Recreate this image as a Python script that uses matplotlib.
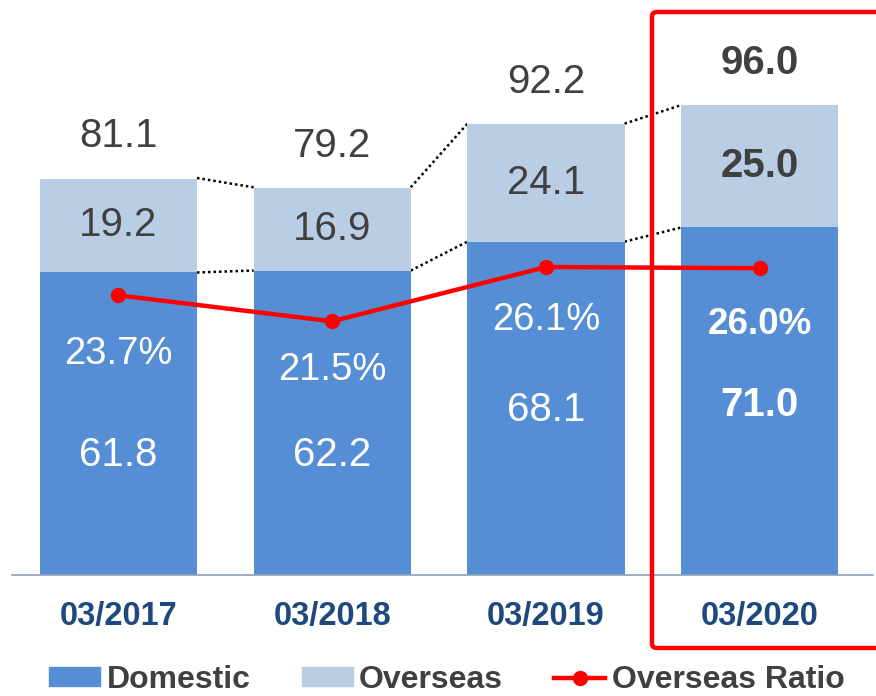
import matplotlib.pyplot as plt
from matplotlib.patches import FancyBboxPatch, Patch
from matplotlib.lines import Line2D

# data
periods = ['03/2017', '03/2018', '03/2019', '03/2020']
domestic = [61.8, 62.2, 68.1, 71.0]
overseas = [19.2, 16.9, 24.1, 25.0]
totals = [81.1, 79.2, 92.2, 96.0]
ratio = [23.7, 21.5, 26.1, 26.0]

# label placement (data units, left axis)
dom_label_y = [24.5, 24.5, 33.7, 34.7]
ratio_label_y = [45.1, 41.9, 52.1, 51.1]

c_dom = '#558ED5'
c_ovs = '#B9CDE5'
c_red = '#FF0000'
c_txt = '#404040'
c_tick = '#1F497D'
plt.rcParams['font.family'] = ['Liberation Sans', 'DejaVu Sans']

fig = plt.figure(figsize=(8.76, 6.96), dpi=100)
ax = fig.add_axes([12 / 876, 121 / 696, 861 / 876, 575 / 696])
x = list(range(len(periods)))
w = 0.735

ax.bar(x, domestic, w, color=c_dom, zorder=2)
ax.bar(x, overseas, w, bottom=domestic, color=c_ovs, zorder=2)

ax.set_xlim(-0.498, 3.53)
ax.set_ylim(0, 575 / 4.895)
for s in ['top', 'right', 'left']:
    ax.spines[s].set_visible(False)
ax.spines['bottom'].set_color('#8EA0B8')
ax.spines['bottom'].set_linewidth(1.2)
ax.set_yticks([])
ax.set_xticks(x)
ax.set_xticklabels(periods, fontsize=23.5, fontweight='bold', color=c_tick)
ax.tick_params(axis='x', length=0, pad=19)

# dotted connectors between bars
for i in range(len(x) - 1):
    for top_a, top_b in [(totals[i], totals[i + 1]), (domestic[i], domestic[i + 1])]:
        ax.plot([x[i] + w / 2, x[i + 1] - w / 2], [top_a, top_b], color='black',
                linestyle=(0, (1, 1.2)), linewidth=1.8, zorder=1)

for i in x:
    bold = 'bold' if i == 3 else 'normal'
    ax.text(i, totals[i] + 8.5, f'{totals[i]:.1f}', ha='center', va='center',
            fontsize=29, color=c_txt, fontweight=bold)
    ax.text(i, domestic[i] + overseas[i] / 2, f'{overseas[i]:.1f}', ha='center', va='center',
            fontsize=29, color=c_txt, fontweight=bold)
    ax.text(i, dom_label_y[i], f'{domestic[i]:.1f}', ha='center', va='center',
            fontsize=29, color='white', fontweight=bold)
    ax.text(i, ratio_label_y[i], f'{ratio[i]:.1f}%', ha='center', va='center',
            fontsize=26.5 if i == 3 else 27.5, color='white', fontweight=bold)

ax2 = ax.twinx()
ax2.set_ylim(0, 575 / 11.8)
ax2.plot(x, ratio, color=c_red, linewidth=3.2, marker='o', markersize=10, zorder=3)
ax2.axis('off')

# highlight box around last period
box = FancyBboxPatch((652 / 876, 48 / 696), 260 / 876, 636 / 696,
                     boxstyle='round,pad=0,rounding_size=0.006', transform=fig.transFigure,
                     fill=False, edgecolor=c_red, linewidth=3.2, zorder=5)
fig.patches.append(box)

handles = [Patch(color=c_dom), Patch(color=c_ovs),
           Line2D([0], [0], color=c_red, linewidth=3.2, marker='o', markersize=10)]
fig.legend(handles, ['Domestic', 'Overseas', 'Overseas Ratio'], ncol=3, loc='center',
           bbox_to_anchor=(0.51, 0.023), frameon=False,
           prop={'weight': 'bold', 'size': 23},
           labelcolor=c_txt, handlelength=1.6, handleheight=0.55, handletextpad=0.2,
           columnspacing=1.6, borderpad=0)

fig.savefig('out.png', dpi=100)
